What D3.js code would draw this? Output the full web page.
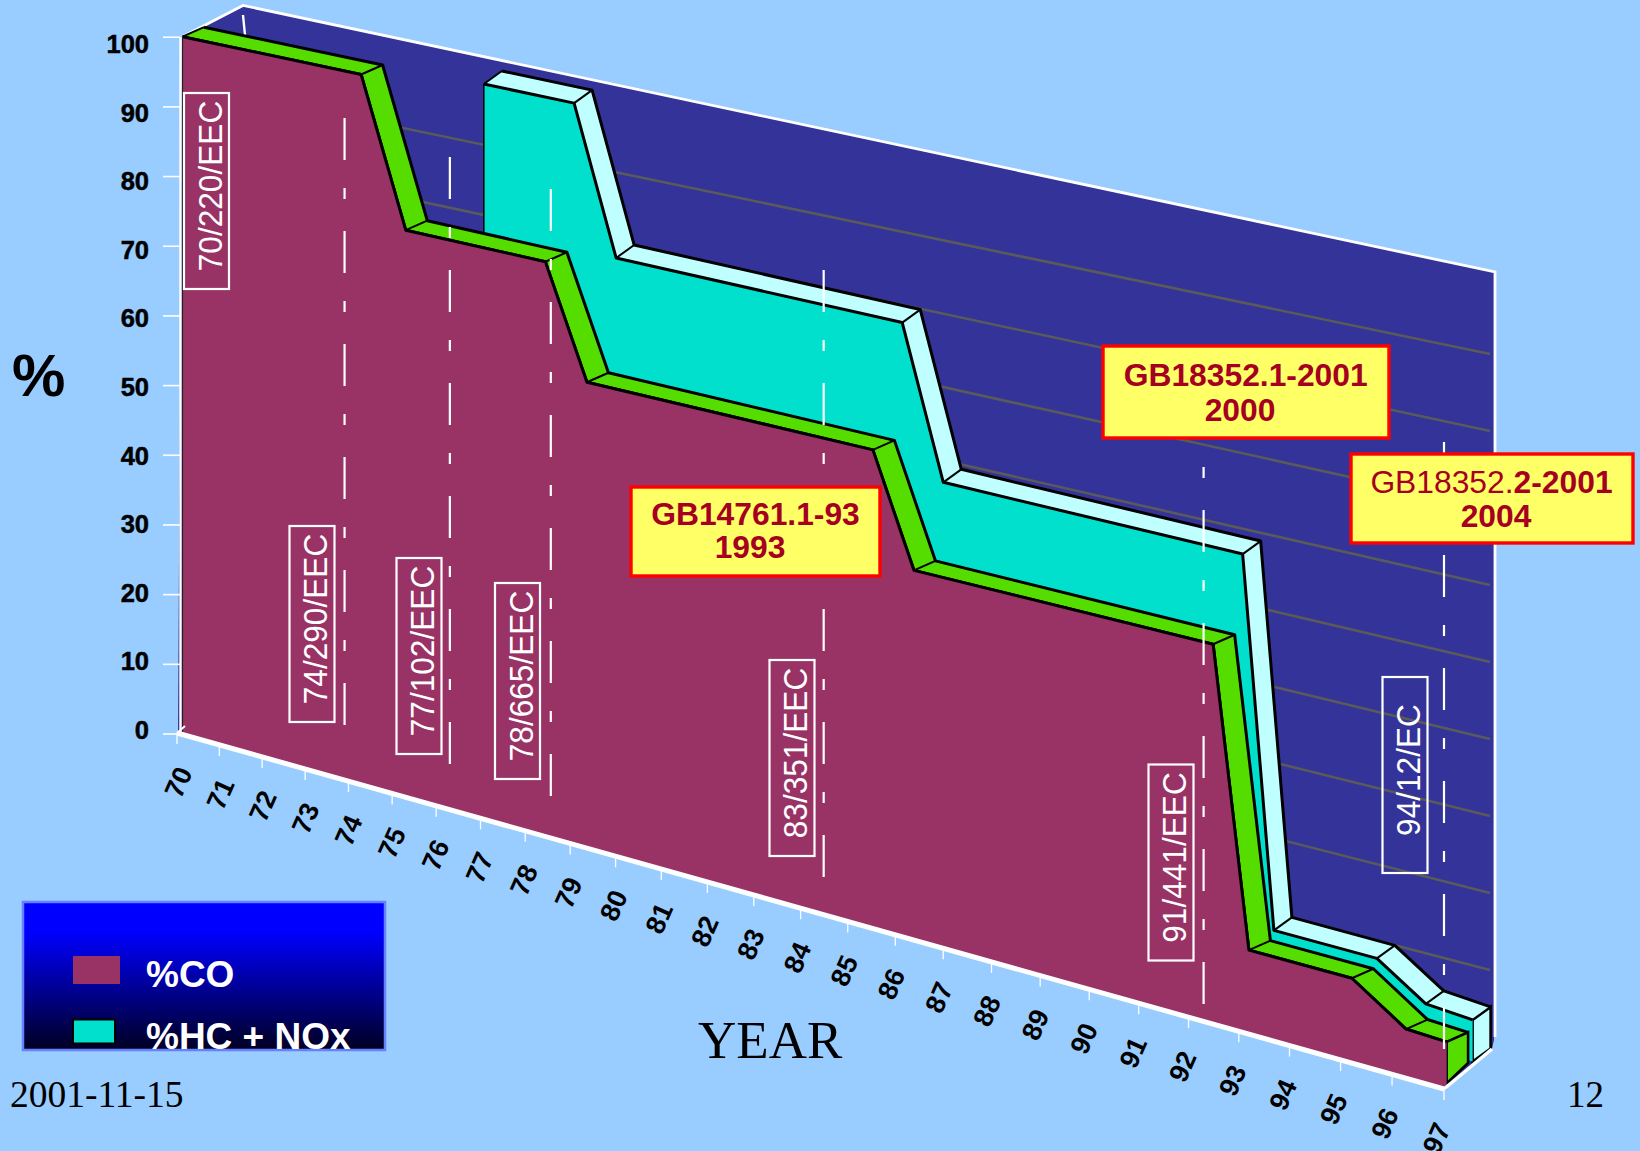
<!DOCTYPE html>
<html>
<head>
<meta charset="utf-8" />
<script src="https://cdn.jsdelivr.net/npm/d3@7"></script>
<style>
  body { margin: 0; background: #99ccff; overflow: hidden; }
  text { font-family: "Liberation Sans", Arial, sans-serif; }
  .serif { font-family: "Liberation Serif", "Times New Roman", serif; }
</style>
</head>
<body>
<div id="chart"></div>
<script>
// data
const years = d3.range(70, 98);
const valueTicks = d3.range(0, 101, 10);
const gridValues = d3.range(10, 100, 10);

const coYears = [70.13, 74.29, 75.31, 78.45, 79.37, 85.53, 86.39, 92.49, 93.2, 95.22, 96.27, 97.05];
const coValues = [100, 100, 79.5, 79.5, 64.2, 64.2, 49.4, 49.4, 10.9, 10.9, 6.3, 6.1];

const hcYears = [76.49, 78.51, 79.44, 85.6, 86.46, 92.56, 93.18, 95.2, 96.15, 97.05];
const hcValues = [100, 100, 79.9, 79.9, 59.8, 59.8, 12, 12, 7.9, 7.5];

const euNames = ["70/220/EEC", "74/290/EEC", "77/102/EEC", "78/665/EEC", "83/351/EEC", "91/441/EEC", "94/12/EC"];
const euCentres = [[206.5, 191], [312, 624], [419, 656], [517.5, 681], [792, 758], [1171, 862.5], [1405, 775]];

const limitYears = [73.91, 76.31, 78.57, 84.49, 92.3, 97];
const limitTops = [118, 157, 189, 270, 397, 442];
const limitEnds = [730, 768.5, 800, 880, 1010, 1051];

const W = 1640,
  H = 1151;

const svg = d3.select("#chart").append("svg").attr("width", W).attr("height", H);

// oblique projection of the front plane, right side is closer so years spread out
const frac = d3.scaleLinear().domain([70, 97]).range([0, 1]);
const xRange = d3.scaleLinear().domain([0, 1]).range([177, 1444]);
const xOf = (yr) => {
  const s = frac(yr);
  return xRange((s * 0.9) / (1 - 0.1 * s));
};
const baseY = d3.scaleLinear().domain([177, 1444]).range([733, 1089]);
const topY = d3.scaleLinear().domain([177, 1444]).range([35.5, 304]);

// pixel offset of each depth layer from the front plane
const layers = {
  front: [0, 0],
  greenBack: [21.5, -9.5],
  cyanFront: [26, -11],
  cyanBack: [44, -24],
};
const pt = (yr, v, layer) => {
  const x = xOf(yr);
  const y = d3.interpolateNumber(baseY(x), topY(x))(v / 100);
  return [x + layers[layer][0], y + layers[layer][1]];
};

const gridLeft = d3.scaleLinear().domain([0, 100]).range([713, 26]);
const gridRight = d3.scaleLinear().domain([0, 100]).range([1047, 277]);

const line = d3.line();
const closed = (pts) => line(pts) + "Z";

// back wall
svg
  .append("path")
  .attr(
    "d",
    closed([
      [182, 37],
      [243, gridLeft(103)],
      [1494, gridRight(100.65)],
      [1494, 1040],
      [1492, 1049],
      pt(97, 0, "front"),
      [178, 733],
    ])
  )
  .attr("fill", "#333399");

svg
  .selectAll(".grid")
  .data(gridValues)
  .enter()
  .append("line")
  .attr("class", "grid")
  .attr("x1", 243)
  .attr("x2", 1490)
  .attr("y1", (d) => gridLeft(d))
  .attr("y2", (d) => gridRight(d))
  .attr("stroke", "#5a5a5a")
  .attr("stroke-width", 2.6);

// wall outline
svg
  .append("path")
  .attr(
    "d",
    line([
      [182, 37],
      [243, gridLeft(103)],
      [1495, gridRight(100.65)],
      [1495, 1037],
    ])
  )
  .attr("fill", "none")
  .attr("stroke", "#fff")
  .attr("stroke-width", 2.8);
svg
  .append("path")
  .attr("d", "M243,15L245,35")
  .attr("stroke", "#fff")
  .attr("stroke-width", 2.4);

const hcFront = hcYears.map((y, i) => pt(y, hcValues[i], "cyanFront"));
const hcBack = hcYears.map((y, i) => pt(y, hcValues[i], "cyanBack"));
const coFront = coYears.map((y, i) => pt(y, coValues[i], "front"));
const coBack = coYears.map((y, i) => pt(y, coValues[i], "greenBack"));

const floorV = 2.2;
const hcLast = hcYears[hcYears.length - 1];
const coLast = coYears[coYears.length - 1];

// draw one extruded step line: band faces, long edges, cross edges
const band = (front, back, fill) => {
  d3.pairs(d3.range(front.length)).forEach(([a, b]) => {
    svg
      .append("path")
      .attr("d", closed([front[a], front[b], back[b], back[a]]))
      .attr("fill", fill);
  });
  [front, back].forEach((p) => {
    svg
      .append("path")
      .attr("d", line(p))
      .attr("fill", "none")
      .attr("stroke", "#000")
      .attr("stroke-width", 3)
      .attr("stroke-linejoin", "round");
  });
  front.forEach((p, i) => {
    svg
      .append("line")
      .attr("x1", p[0])
      .attr("y1", p[1])
      .attr("x2", back[i][0])
      .attr("y2", back[i][1])
      .attr("stroke", "#000")
      .attr("stroke-width", 2);
  });
};

// HC + NOx end face
svg
  .append("path")
  .attr(
    "d",
    closed([
      hcFront[hcFront.length - 1],
      hcBack[hcBack.length - 1],
      pt(hcLast, floorV, "cyanBack"),
      pt(hcLast, floorV, "cyanFront"),
    ])
  )
  .attr("fill", "#bfffff")
  .attr("stroke", "#000")
  .attr("stroke-width", 2.6);

// HC + NOx face
svg
  .append("path")
  .attr("d", closed([...hcFront, pt(hcLast, floorV, "cyanFront"), pt(hcYears[0], floorV, "cyanFront")]))
  .attr("fill", "#00e0cc");
svg
  .append("path")
  .attr("d", line([hcFront[0], pt(hcYears[0], floorV, "cyanFront")]))
  .attr("stroke", "#000")
  .attr("stroke-width", 1.5);
band(hcFront, hcBack, "#bfffff");

// CO band + end face
band(coFront, coBack, "#55dd00");
svg
  .append("path")
  .attr(
    "d",
    closed([
      coFront[coFront.length - 1],
      coBack[coBack.length - 1],
      pt(coLast, floorV, "greenBack"),
      pt(coLast, 0.8, "front"),
    ])
  )
  .attr("fill", "#55dd00")
  .attr("stroke", "#000")
  .attr("stroke-width", 2.6);

// CO face
svg
  .append("path")
  .attr("d", closed([...coFront, pt(coLast, 0, "front"), pt(coYears[0], 0, "front")]))
  .attr("fill", "#993366");
svg
  .append("path")
  .attr("d", line(coFront))
  .attr("fill", "none")
  .attr("stroke", "#000")
  .attr("stroke-width", 3)
  .attr("stroke-linejoin", "round");
svg
  .append("path")
  .attr("d", line([coFront[0], pt(coYears[0], 0, "front")]))
  .attr("stroke", "#222")
  .attr("stroke-width", 1.2);

// floor edges
svg
  .append("path")
  .attr("d", line([pt(70, 0, "front"), pt(97, 0, "front")]))
  .attr("stroke", "#fff")
  .attr("stroke-width", 5);
svg
  .append("path")
  .attr("d", line([pt(97, 0, "front"), [1492, 1049]]))
  .attr("stroke", "#fff")
  .attr("stroke-width", 3.5);
svg
  .append("path")
  .attr("d", line([pt(70, 0, "front"), [185, 726]]))
  .attr("stroke", "#fff")
  .attr("stroke-width", 2);

// value axis
const yTick = d3.scaleLinear().domain([0, 100]).range([733.5, 36.7]);
const yLabel = d3.scaleLinear().domain([0, 100]).range([738.5, 52.5]);
const yAxis = svg
  .append("g")
  .attr("transform", "translate(180,0)")
  .call(d3.axisLeft(yTick).tickValues(valueTicks).tickSize(17).tickSizeOuter(0));
yAxis.select(".domain").attr("stroke", "#fff").attr("stroke-width", 2.4);
yAxis.selectAll(".tick line").attr("stroke", "#fff").attr("stroke-width", 1.6);
yAxis
  .selectAll(".tick text")
  .attr("x", -31)
  .attr("dy", null)
  .attr("y", (d) => yLabel(d) - yTick(d))
  .attr("fill", "#000")
  .attr("stroke", "#000")
  .attr("stroke-width", 0.5)
  .style("font-family", '"Liberation Sans"')
  .style("font-weight", "bold")
  .style("font-size", "25.5px");

// year ticks along the floor
const labelShift = d3.scaleLinear().domain([70, 97]).range([1, -8]);
svg
  .selectAll(".yearTick")
  .data(years)
  .enter()
  .append("line")
  .attr("class", "yearTick")
  .attr("x1", (d) => xOf(d))
  .attr("x2", (d) => xOf(d))
  .attr("y1", (d) => pt(d, 0, "front")[1])
  .attr("y2", (d) => pt(d, 0, "front")[1] + 11)
  .attr("stroke", "#fff")
  .attr("stroke-width", 1.3);
svg
  .selectAll(".yearLabel")
  .data(years)
  .enter()
  .append("text")
  .attr("class", "yearLabel")
  .attr(
    "transform",
    (d) => "translate(" + (xOf(d) + labelShift(d)) + "," + (pt(d, 0, "front")[1] + 49) + ") rotate(-66)"
  )
  .attr("text-anchor", "middle")
  .attr("dy", "0.36em")
  .style("font-weight", "bold")
  .style("font-size", "27px")
  .text((d) => d);

// dashed limit lines
svg
  .selectAll(".limit")
  .data(limitYears)
  .enter()
  .append("line")
  .attr("class", "limit")
  .attr("x1", (d) => xOf(d))
  .attr("x2", (d) => xOf(d))
  .attr("y1", (d, i) => limitTops[i])
  .attr("y2", (d, i) => limitEnds[i])
  .attr("stroke", "#fff")
  .attr("stroke-width", 2.2)
  .attr("stroke-dasharray", "42 28 11 32");

// directive labels
const euBox = svg
  .selectAll(".eu")
  .data(euNames)
  .enter()
  .append("g")
  .attr("class", "eu")
  .attr("transform", (d, i) => "translate(" + euCentres[i][0] + "," + euCentres[i][1] + ")");
euBox
  .append("rect")
  .attr("x", -22.5)
  .attr("y", -98)
  .attr("width", 45)
  .attr("height", 196)
  .attr("fill", "none")
  .attr("stroke", "#fff")
  .attr("stroke-width", 2.2);
euBox
  .append("text")
  .attr("transform", "translate(3,-5) rotate(-90) scale(0.93,1)")
  .attr("text-anchor", "middle")
  .attr("dy", "0.36em")
  .attr("fill", "#fff")
  .style("font-size", "34px")
  .text((d) => d);

// yellow standard labels
const yellowBox = (x, y, w, h) => {
  svg
    .append("rect")
    .attr("x", x)
    .attr("y", y)
    .attr("width", w)
    .attr("height", h)
    .attr("fill", "#ffff66")
    .attr("stroke", "#ff0000")
    .attr("stroke-width", 3.4);
};
const stdText = (x, y) =>
  svg
    .append("text")
    .attr("x", x)
    .attr("y", y)
    .attr("text-anchor", "middle")
    .attr("fill", "#a50021")
    .style("font-size", "31.8px")
    .style("font-weight", "bold");

yellowBox(631, 487, 249, 89);
stdText(755.5, 524.5).text("GB14761.1-93");
stdText(750, 558).text("1993");

yellowBox(1103, 346, 286, 92);
stdText(1245.7, 386).text("GB18352.1-2001");
stdText(1240, 420.5).text("2000");

yellowBox(1351, 454, 282, 89);
const std2 = stdText(1491.5, 493);
std2.append("tspan").style("font-weight", "normal").text("GB18352");
std2.append("tspan").style("font-weight", "normal").text(".");
std2.append("tspan").text("2-2001");
stdText(1496, 527).text("2004");

// legend
const defs = svg.append("defs");
const grad = defs
  .append("linearGradient")
  .attr("id", "legendFill")
  .attr("x1", 0)
  .attr("y1", 0)
  .attr("x2", 0)
  .attr("y2", 1);
grad.append("stop").attr("offset", "0%").attr("stop-color", "#0000ff");
grad.append("stop").attr("offset", "20%").attr("stop-color", "#0000ff");
grad.append("stop").attr("offset", "100%").attr("stop-color", "#000022");

svg
  .append("rect")
  .attr("x", 23)
  .attr("y", 902)
  .attr("width", 362)
  .attr("height", 148)
  .attr("fill", "url(#legendFill)")
  .attr("stroke", "#6680ff")
  .attr("stroke-width", 2.5);
svg.append("rect").attr("x", 73).attr("y", 956).attr("width", 47).attr("height", 28).attr("fill", "#993366");
svg
  .append("rect")
  .attr("x", 73)
  .attr("y", 1019.5)
  .attr("width", 42)
  .attr("height", 24)
  .attr("fill", "#00e0cc")
  .attr("stroke", "#000")
  .attr("stroke-width", 2);
["%CO", "%HC + NOx"].forEach((d, i) => {
  svg
    .append("text")
    .attr("x", 146)
    .attr("y", i ? 1049 : 987)
    .attr("fill", "#fff")
    .style("font-size", "37px")
    .style("font-weight", "bold")
    .text(d);
});

// axis titles and slide footer
svg
  .append("text")
  .attr("x", 12)
  .attr("y", 396)
  .style("font-size", "60px")
  .style("font-weight", "bold")
  .text("%");
svg.append("text").attr("class", "serif").attr("x", 698).attr("y", 1058).style("font-size", "53px").text("YEAR");
svg.append("text").attr("class", "serif").attr("x", 10).attr("y", 1106.5).style("font-size", "37.5px").text("2001-11-15");
svg.append("text").attr("class", "serif").attr("x", 1567).attr("y", 1106.5).style("font-size", "37px").text("12");
</script>
</body>
</html>
